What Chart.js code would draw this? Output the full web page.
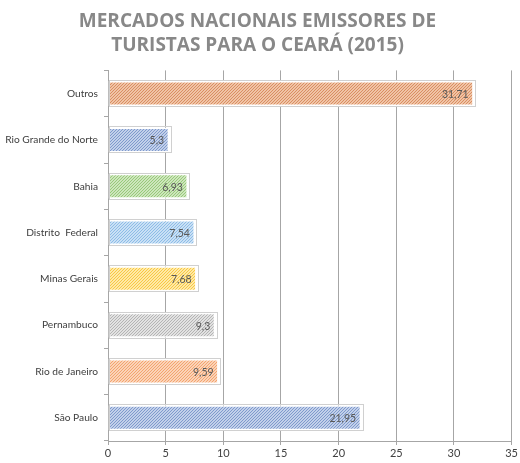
<!DOCTYPE html>
<html><head><meta charset="utf-8">
<script src="https://cdn.jsdelivr.net/npm/chart.js@4/dist/chart.umd.min.js"></script>
<style>html,body{margin:0;padding:0;background:#fff}#wrap{width:520px;height:463px}</style>
</head><body><div id="wrap"><canvas id="c" width="520" height="463"></canvas></div>
<script>
const categories = ["Outros","Rio Grande do Norte","Bahia","Distrito  Federal","Minas Gerais","Pernambuco","Rio de Janeiro","São Paulo"];
const values = [31.71, 5.3, 6.93, 7.54, 7.68, 9.3, 9.59, 21.95];
const baseColors = ["#F0C4A6","#C2D0EA","#CDE6BC","#C9E0F5","#FFE9A6","#E2E2E2","#FBD3B8","#C2D0EA"];
const stripeColors = ["#D98E62","#7F99CC","#98C97A","#8DBCE6","#F7C844","#B4B4B4","#F3A46E","#7F99CC"];
const xTicks = [0,5,10,15,20,25,30,35];

function makePattern(bg, fg){
  const s = 6;
  const c = document.createElement('canvas'); c.width = s; c.height = s;
  const g = c.getContext('2d');
  g.fillStyle = bg; g.fillRect(0,0,s,s);
  g.strokeStyle = fg; g.lineWidth = 1;
  g.beginPath();
  for (let k=-s; k<=2*s; k+=3){ g.moveTo(k, s); g.lineTo(k+s, 0); }
  g.stroke();
  return g.createPattern(c,'repeat');
}
const fills = baseColors.map((b,i)=>makePattern(b, stripeColors[i]));

const labelPlugin = {
  id:'vlabels',
  afterDatasetsDraw(chart){
    const ctx = chart.ctx;
    const meta = chart.getDatasetMeta(0);
    ctx.save();
    ctx.strokeStyle = '#D0D0D0'; ctx.lineWidth = 1;
    meta.data.forEach((bar)=>{
      const h = bar.height;
      ctx.strokeRect(Math.round(bar.base)+0.5, Math.round(bar.y - h/2)-0.5, Math.round(bar.x - bar.base)+1, Math.round(h)+1);
    });
    ctx.font = '10.5px Lato, sans-serif';
    ctx.fillStyle = '#595959';
    ctx.textAlign = 'right'; ctx.textBaseline = 'middle';
    meta.data.forEach((bar,i)=>{
      ctx.fillText(String(values[i]).replace('.',','), bar.x - 5, bar.y + 1);
    });
    ctx.restore();
  }
};

new Chart(document.getElementById('c'), {
  type:'bar',
  data:{ labels: categories, datasets:[{ data: values, backgroundColor: fills, borderColor:'#ffffff', borderWidth:1.5, borderSkipped:false, barPercentage:0.54, categoryPercentage:1 }]},
  options:{
    indexAxis:'y', responsive:false, animation:false,
    layout:{padding:{left:0,right:5,top:0,bottom:0}},
    plugins:{
      legend:{display:false}, tooltip:{enabled:false},
      title:{display:true, text:['MERCADOS NACIONAIS EMISSORES DE','TURISTAS PARA O CEARÁ (2015)'], color:'#888888',
        font:{family:'"Open Sans", sans-serif', size:19, weight:'bold', lineHeight:1.3}, padding:{top:9,bottom:12}}
    },
    scales:{
      x:{ min:0, max:35, position:'bottom',
        ticks:{ stepSize:5, color:'#404040', font:{family:'Lato, sans-serif', size:11}, padding:2 },
        grid:{ color:'#A6A6A6', lineWidth:1, tickLength:4, drawTicks:true },
        border:{ color:'#A6A6A6' },
        afterBuildTicks(s){ s.ticks = xTicks.map(v=>({value:v})); },
        afterFit(s){ s.height = 22; }
      },
      y:{
        ticks:{ color:'#404040', font:{family:'Lato, sans-serif', size:10.2}, padding:6 },
        grid:{ drawOnChartArea:false, offset:true, tickLength:4, color:'#A6A6A6' },
        border:{ color:'#A6A6A6' },
        afterFit(s){ s.width = 108; }
      }
    }
  },
  plugins:[labelPlugin]
});
</script></body></html>
